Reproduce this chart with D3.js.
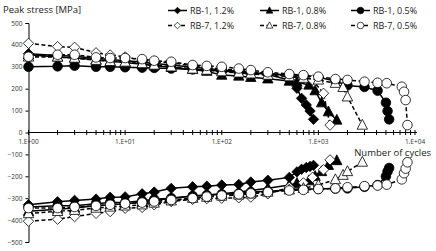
<!DOCTYPE html>
<html lang="en">
<head>
  <meta charset="UTF-8">
  <title>Peak stress</title>
  <script src="https://d3js.org/d3.v7.min.js"></script>
  <style>
    body { margin: 0; background: #fff; }
    text { font-family: "Open Sans", "Noto Sans", sans-serif; }
  </style>
</head>
<body>
  <div id="chart"></div>
  <script>
    // cycles and peak stresses [MPa]
    const cyclesRB1_12 = [1, 2, 3, 5, 7, 10, 15, 20, 30, 50, 70, 100, 150, 200, 300, 500, 600, 670, 750, 820, 890];
    const tensionRB1_12 = [360, 352, 348, 338, 333, 328, 322, 315, 308, 298, 292, 285, 280, 275, 265, 240, 202, 156, 126, 98, 60];
    const compressionRB1_12 = [-330, -316, -310, -304, -296, -294, -280, -272, -255, -248, -245, -240, -237, -226, -218, -205, -180, -168, -160, -155, -150];

    const cyclesRB1_08 = [1, 2, 3, 5, 7, 10, 15, 20, 30, 50, 70, 100, 150, 200, 300, 500, 600, 800, 925, 1080, 1270, 1550];
    const tensionRB1_08 = [355, 345, 340, 332, 325, 320, 312, 305, 298, 288, 280, 262, 258, 252, 245, 235, 230, 217, 191, 136, 95, 57];
    const compressionRB1_08 = [-360, -350, -345, -335, -330, -325, -318, -310, -300, -290, -285, -280, -272, -265, -255, -240, -232, -220, -200, -178, -150, -128];

    const cyclesRB1_05 = [1, 2, 3, 5, 7, 10, 15, 20, 30, 50, 70, 100, 150, 200, 300, 500, 700, 1000, 1500, 2000, 3000, 4100, 5000, 5200, 5400];
    const tensionRB1_05 = [300, 302, 305, 300, 300, 298, 296, 295, 292, 288, 285, 280, 276, 272, 268, 262, 258, 252, 235, 215, 208, 191, 136, 98, 60];
    const compressionRB1_05 = [-340, -335, -335, -325, -320, -320, -312, -305, -300, -290, -286, -282, -278, -272, -268, -262, -258, -258, -256, -255, -248, -240, -200, -178, -162];

    const cyclesRB7_12 = [1, 2, 3, 5, 7, 10, 15, 20, 30, 50, 70, 100, 150, 200, 300, 500, 700, 870, 1130, 1320];
    const tensionRB7_12 = [407, 392, 389, 364, 354, 345, 330, 323, 318, 305, 298, 290, 285, 278, 268, 258, 250, 240, 179, 34];
    const compressionRB7_12 = [-405, -396, -384, -369, -361, -346, -342, -330, -315, -305, -302, -300, -298, -295, -280, -250, -230, -205, -170, -125];

    const cyclesRB7_08 = [1, 2, 3, 5, 7, 10, 15, 20, 30, 50, 70, 100, 150, 200, 300, 500, 700, 1000, 1500, 1800, 2000, 2850];
    const tensionRB7_08 = [345, 345, 340, 330, 325, 322, 315, 308, 300, 290, 285, 278, 272, 268, 262, 255, 248, 240, 225, 206, 163, 34];
    const compressionRB7_08 = [-370, -360, -355, -345, -340, -335, -330, -322, -312, -300, -295, -290, -285, -280, -272, -262, -255, -240, -215, -195, -178, -135];

    const cyclesRB7_05 = [1, 2, 3, 5, 7, 10, 15, 20, 30, 50, 70, 100, 150, 200, 300, 500, 700, 1000, 1500, 2000, 3000, 4100, 5100, 7300, 7700, 8000, 8350];
    const tensionRB7_05 = [346, 355, 355, 343, 340, 340, 335, 328, 323, 308, 304, 300, 292, 285, 275, 267, 262, 255, 244, 240, 232, 227, 225, 209, 186, 148, 34];
    const compressionRB7_05 = [-345, -345, -340, -335, -330, -325, -320, -315, -308, -300, -293, -288, -282, -278, -272, -265, -262, -258, -255, -250, -245, -242, -238, -214, -186, -165, -136];

    const seriesNames = ["RB-1, 1.2%", "RB-1, 0.8%", "RB-1, 0.5%", "RB-7, 1.2%", "RB-7, 0.8%", "RB-7, 0.5%"];
    const yTicks = [-500, -400, -300, -200, -100, 0, 100, 200, 300, 400, 500];
    const xTicks = [1, 10, 100, 1000, 10000];

    const series = [
      { name: seriesNames[0], shape: "diamond", filled: true, dashed: false, cycles: cyclesRB1_12, tension: tensionRB1_12, compression: compressionRB1_12 },
      { name: seriesNames[1], shape: "triangle", filled: true, dashed: false, cycles: cyclesRB1_08, tension: tensionRB1_08, compression: compressionRB1_08 },
      { name: seriesNames[2], shape: "circle", filled: true, dashed: false, cycles: cyclesRB1_05, tension: tensionRB1_05, compression: compressionRB1_05 },
      { name: seriesNames[3], shape: "diamond", filled: false, dashed: true, cycles: cyclesRB7_12, tension: tensionRB7_12, compression: compressionRB7_12 },
      { name: seriesNames[4], shape: "triangle", filled: false, dashed: true, cycles: cyclesRB7_08, tension: tensionRB7_08, compression: compressionRB7_08 },
      { name: seriesNames[5], shape: "circle", filled: false, dashed: true, cycles: cyclesRB7_05, tension: tensionRB7_05, compression: compressionRB7_05 }
    ];

    const width = 436, height = 251;

    const svg = d3.select("#chart")
      .append("svg")
      .attr("width", width)
      .attr("height", height);

    const x = d3.scaleLog().domain([1, 10000]).range([28.5, 415]);
    const y = d3.scaleLinear().domain([-500, 500]).range([242, 23]);

    // marker path, s = half size
    function markerPath(shape, s) {
      if (shape === "diamond") {
        return `M0,${-s}L${s},0L0,${s}L${-s},0Z`;
      }
      if (shape === "triangle") {
        const h = s * 1.9;
        return `M0,${-h * 0.58}L${s},${h * 0.42}L${-s},${h * 0.42}Z`;
      }
      return d3.arc()({ innerRadius: 0, outerRadius: s, startAngle: 0, endAngle: 2 * Math.PI });
    }

    // y axis
    const yAxis = svg.append("g")
      .attr("transform", `translate(${x(1)},0)`)
      .call(d3.axisLeft(y).tickValues(yTicks).tickSize(3).tickPadding(3));
    yAxis.select(".domain").attr("stroke", "#000").attr("stroke-width", 1);
    yAxis.selectAll(".tick line").attr("stroke", "#000");
    yAxis.selectAll(".tick text")
      .attr("font-family", "'Open Sans', sans-serif")
      .attr("font-size", "6.5px")
      .attr("fill", "#333");

    // x axis at y = 0, cross ticks
    const minorTicks = [];
    for (let d = 1; d < 10000; d *= 10) {
      for (let k = 2; k <= 9; k++) minorTicks.push(d * k);
    }
    const xAxisG = svg.append("g").attr("transform", `translate(0,${y(0)})`);
    xAxisG.append("line")
      .attr("x1", x(1)).attr("x2", x(10000) + 2)
      .attr("stroke", "#000");
    xAxisG.selectAll(".minor")
      .data(minorTicks.concat(xTicks))
      .enter()
      .append("line")
      .attr("x1", d => x(d)).attr("x2", d => x(d))
      .attr("y1", -2.5).attr("y2", 2.5)
      .attr("stroke", "#000");
    xAxisG.selectAll(".xlab")
      .data(xTicks)
      .enter()
      .append("text")
      .attr("x", d => x(d))
      .attr("y", 11.5)
      .attr("text-anchor", "middle")
      .attr("font-size", "6.5px")
      .attr("fill", "#333")
      .text(d => "1.E+0" + Math.round(Math.log10(d)));

    // axis titles
    svg.append("text")
      .attr("x", 3).attr("y", 13)
      .attr("font-size", "9.5px")
      .attr("fill", "#222")
      .text("Peak stress [MPa]");
    svg.append("text")
      .attr("x", 431).attr("y", 155.5)
      .attr("text-anchor", "end")
      .attr("font-size", "9.5px")
      .attr("fill", "#222")
      .text("Number of cycles");

    const line = d3.line()
      .x(d => x(d[0]))
      .y(d => y(d[1]));

    series.forEach(s => {
      const g = svg.append("g");
      ["tension", "compression"].forEach(key => {
        const pts = s.cycles.map((c, i) => [c, s[key][i]]);
        g.append("path")
          .datum(pts)
          .attr("d", line)
          .attr("fill", "none")
          .attr("stroke", "#000")
          .attr("stroke-width", 1.5)
          .attr("stroke-dasharray", s.dashed ? "4,2.5" : null);
        g.selectAll(".m-" + key)
          .data(pts)
          .enter()
          .append("path")
          .attr("transform", d => `translate(${x(d[0])},${y(d[1])})`)
          .attr("d", markerPath(s.shape, s.shape === "circle" ? 4.8 : 5.2))
          .attr("fill", s.filled ? "#000" : "#fff")
          .attr("stroke", "#000")
          .attr("stroke-width", 0.8);
      });
    });

    // legend: 3 columns x 2 rows
    const legendCols = [168, 260, 351];
    const legendRows = [10.5, 25.5];
    series.forEach((s, i) => {
      const lx = legendCols[i % 3];
      const ly = legendRows[Math.floor(i / 3)];
      const g = svg.append("g").attr("transform", `translate(${lx},${ly})`);
      g.append("line")
        .attr("x1", 0).attr("x2", 19)
        .attr("stroke", "#000")
        .attr("stroke-width", 1.5)
        .attr("stroke-dasharray", s.dashed ? "4,2.5" : null);
      g.append("path")
        .attr("transform", "translate(9.5,0)")
        .attr("d", markerPath(s.shape, 3.3))
        .attr("fill", s.filled ? "#000" : "#fff")
        .attr("stroke", "#000")
        .attr("stroke-width", 0.7);
      g.append("text")
        .attr("x", 22).attr("y", 3.3)
        .attr("font-size", "9px")
        .attr("fill", "#222")
        .text(s.name);
    });
  </script>
</body>
</html>
